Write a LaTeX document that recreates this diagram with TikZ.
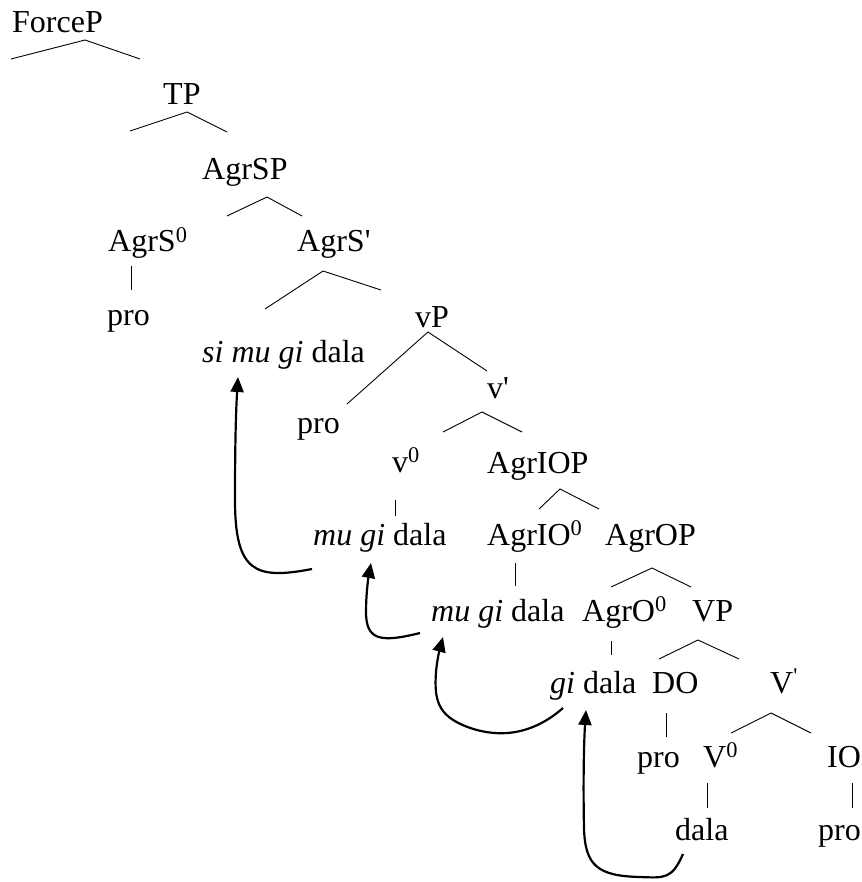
\documentclass[tikz,border=0pt]{standalone}
\usepackage{fontspec}
\setmainfont{Liberation Serif}
\usetikzlibrary{arrows.meta}
\begin{document}
\begin{tikzpicture}[x=1pt,y=-1pt,
  lab/.style={anchor=base west,inner sep=0pt,font=\fontsize{32}{38}\selectfont},
  branch/.style={line width=0.9pt},
  mv/.style={line width=2.2pt,-{Triangle[length=15pt,width=13pt]}}]
\useasboundingbox (0,0) rectangle (861,882);
% labels
\node[lab] (forcep) at (12,33) {ForceP};
\node[lab] (tp) at (163,105) {TP};
\node[lab] (agrsp) at (202,180) {AgrSP};
\node[lab] (agrs0) at (108,252) {AgrS\textsuperscript{0}};
\node[lab] (agrsbar) at (297,252) {AgrS\textquotesingle};
\node[lab] (pro1) at (107,325) {pro};
\node[lab] (vp) at (415,327) {vP};
\node[lab] (simugidala) at (202,362) {\textit{si mu gi} dala};
\node[lab] (vbar) at (487,398) {v\textquotesingle};
\node[lab] (pro2) at (297,433) {pro};
\node[lab] (v0) at (392,472) {v\textsuperscript{0}};
\node[lab] (agriop) at (487,473) {AgrIOP};
\node[lab] (mugidala1) at (313,545) {\textit{mu gi} dala};
\node[lab] (agrio0) at (487,545) {AgrIO\textsuperscript{0}};
\node[lab] (agrop) at (605,545) {AgrOP};
\node[lab] (mugidala2) at (431,621) {\textit{mu gi} dala};
\node[lab] (agro0) at (582,621) {AgrO\textsuperscript{0}};
\node[lab] (VP) at (692,621) {VP};
\node[lab] (gidala) at (550,693) {\textit{gi} dala};
\node[lab] (do) at (652,693) {DO};
\node[lab] (Vbar) at (770,693) {V\textsuperscript{\textquotesingle}};
\node[lab] (pro3) at (637,767) {pro};
\node[lab] (V0) at (703,767) {V\textsuperscript{0}};
\node[lab] (io) at (827,767) {IO};
\node[lab] (dala) at (675,840) {dala};
\node[lab] (pro4) at (818,840) {pro};
% branch coordinates
\coordinate (fL) at (11,59);  \coordinate (fA) at (85,40);  \coordinate (fR) at (140,59);
\coordinate (tL) at (130,131); \coordinate (tA) at (187,112); \coordinate (tR) at (227,132);
\coordinate (aL) at (227,216); \coordinate (aA) at (267,197); \coordinate (aR) at (302,216);
\coordinate (bL) at (265,309); \coordinate (bA) at (323,271); \coordinate (bR) at (381,290);
\coordinate (vL) at (347,404); \coordinate (vA) at (428,332); \coordinate (vR) at (487,371);
\coordinate (wL) at (443,432); \coordinate (wA) at (482,412); \coordinate (wR) at (522,432);
\coordinate (iL) at (539,509); \coordinate (iA) at (560,489); \coordinate (iR) at (599,509);
\coordinate (oL) at (611,587); \coordinate (oA) at (652,568); \coordinate (oR) at (691,587);
\coordinate (pL) at (659,659); \coordinate (pA) at (698,640); \coordinate (pR) at (739,659);
\coordinate (qL) at (731,733); \coordinate (qA) at (771,713); \coordinate (qR) at (811,733);
\foreach \n in {f,t,a,b,v,w,i,o,p,q}{\draw[branch] (\n L) -- (\n A) -- (\n R);}
% unary lines
\coordinate (u1a) at (131,266); \coordinate (u1b) at (131,290);
\coordinate (u2a) at (395,500); \coordinate (u2b) at (395,516);
\coordinate (u3a) at (515,563); \coordinate (u3b) at (515,586);
\coordinate (u4a) at (611,641); \coordinate (u4b) at (611,655);
\coordinate (u5a) at (666,713); \coordinate (u5b) at (666,737);
\coordinate (u6a) at (707,783); \coordinate (u6b) at (707,808);
\coordinate (u7a) at (852,783); \coordinate (u7b) at (852,808);
\foreach \n in {1,...,7}{\draw[branch] (u\n a) -- (u\n b);}
% movement arrows
\coordinate (m1s) at (312,569); \coordinate (m1t) at (238,377);
\coordinate (m2s) at (420,633); \coordinate (m2t) at (371,563);
\coordinate (m3s) at (563,708); \coordinate (m3t) at (443,637);
\coordinate (m4s) at (683,854); \coordinate (m4t) at (586,710);
\draw[mv] (m1s) .. controls (255,580) and (235,572) .. (235,500) .. controls (235,440) and (236,410) .. (m1t);
\draw[mv] (m2s) .. controls (380,643) and (366,640) .. (366,612) .. controls (366,595) and (368,580) .. (m2t);
\draw[mv] (m3s) .. controls (530,737) and (495,738) .. (465,726) .. controls (438,715) and (434,700) .. (436,672) .. controls (437,660) and (440,648) .. (m3t);
\draw[mv] (m4s) .. controls (672,879) and (665,878) .. (640,877) .. controls (598,876) and (585,866) .. (584,828) .. controls (583,780) and (584,740) .. (m4t);
\end{tikzpicture}
\end{document}
